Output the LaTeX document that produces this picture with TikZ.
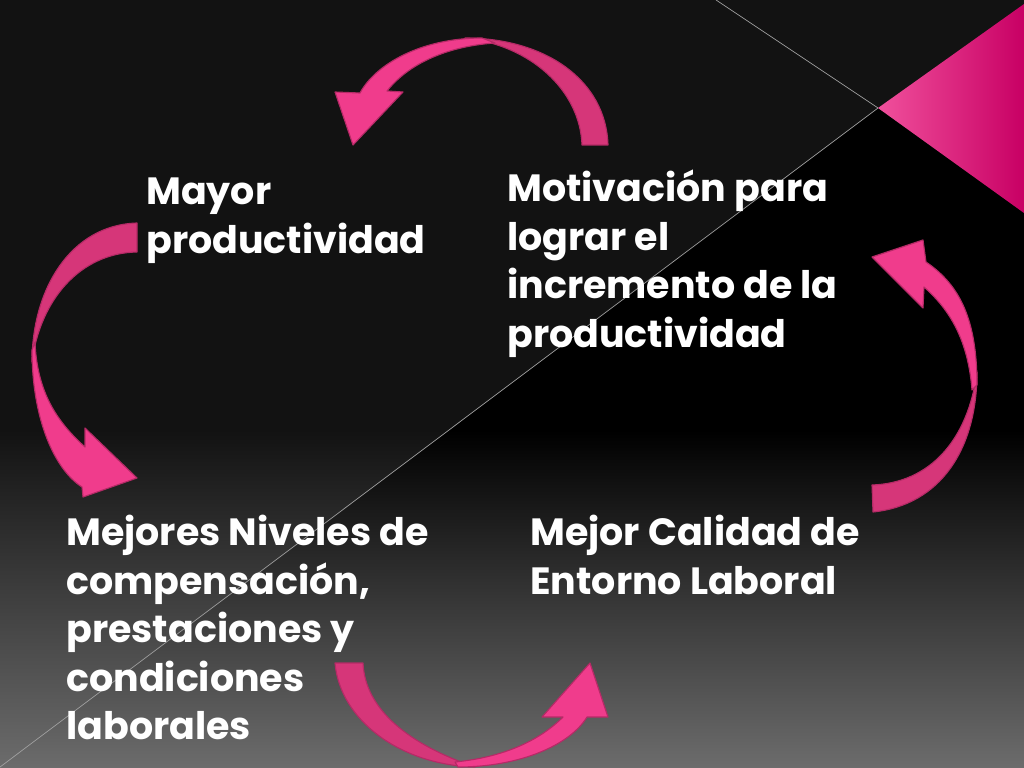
\documentclass[tikz,border=0pt]{standalone}
\usepackage{fontspec}
\setmainfont{Poppins}
\definecolor{pinkA}{HTML}{F03C8C}
\definecolor{pinkB}{HTML}{D63679}
\definecolor{pinkE}{HTML}{B52A66}
\definecolor{bgtop}{HTML}{121212}
\definecolor{bgbot}{HTML}{6C6C6C}
\definecolor{triL}{HTML}{F0509C}
\definecolor{triM}{HTML}{E4007C}
\definecolor{triR}{HTML}{C80064}
\begin{document}
\begin{tikzpicture}[x=0.025cm,y=-0.025cm,
  front/.style={fill=pinkA,draw=pinkE,line width=0.8pt,line join=round},
  back/.style={fill=pinkB,draw=pinkE,line width=0.8pt,line join=round},
  lbl/.style={anchor=north west,inner sep=0pt,text=white,align=left,
    font=\bfseries\fontsize{27}{34.5}\selectfont},
  thinline/.style={draw=gray!75,line width=0.5pt}]
\useasboundingbox (0,0) rectangle (1024,768);
% background
\fill[bgtop] (0,0) rectangle (1024,430);
\shade[top color=bgtop,bottom color=bgbot] (0,430) rectangle (1024,768);
\fill[black] (878,108) -- (1024,213) -- (1024,430) -- (449,430) -- cycle;
\shade[top color=black,bottom color=bgbot] (449,430) -- (1024,430) -- (1024,768) -- (0,768) -- (0,767) -- cycle;
\draw[thinline] (878,108) -- (0,767);
\draw[thinline] (716,0) -- (878,108);
% triangle
\shade[left color=triL,middle color=triM,right color=triR] (878,108) -- (1024,4) -- (1024,213) -- cycle;
% top arrow
\path[back] (608,145) .. controls (606,80) and (545,38) .. (465,38)
  .. controls (530,45) and (580,90) .. (582,145) -- cycle;
\path[front] (482,38) .. controls (420,38) and (375,65) .. (360,93)
  -- (335,92) -- (353,145) -- (403,92) -- (387,91)
  .. controls (410,62) and (450,46) .. (495,43) -- cycle;
% left arrow
\path[back] (137,223) .. controls (70,225) and (32,290) .. (32,362)
  .. controls (40,300) and (80,253) .. (137,252) -- cycle;
\path[front] (32,350) .. controls (32,420) and (55,470) .. (82,487)
  -- (83,497) -- (137,478) -- (85,428) -- (85,447)
  .. controls (55,420) and (37,390) .. (35,342) -- cycle;
% right arrow
\path[back] (873,512) .. controls (940,505) and (977,450) .. (977,372)
  .. controls (968,440) and (930,483) .. (872,485) -- cycle;
\path[front] (977,385) .. controls (977,320) and (960,285) .. (926,262)
  -- (923,240) -- (872,257) -- (923,308) -- (924,287)
  .. controls (950,310) and (968,340) .. (972,390) -- cycle;
% bottom arrow
\path[back] (335,663) .. controls (340,720) and (400,765) .. (475,767)
  .. controls (410,745) and (365,710) .. (363,663) -- cycle;
\path[front] (458,767) .. controls (520,767) and (570,745) .. (587,717)
  -- (608,717) -- (590,663) -- (542,717) -- (563,717)
  .. controls (540,740) and (505,757) .. (455,762) -- cycle;
% texts
\node[lbl] (mayor) at (146,178) {Mayor\\productividad};
\node[lbl] (motiv) at (507,170) {Motivación para\\lograr el\\incremento de la\\productividad};
\node[lbl] (mejores) at (66,515) {Mejores Niveles de\\compensación,\\prestaciones y\\condiciones\\laborales};
\node[lbl] (calidad) at (530,515) {Mejor Calidad de\\Entorno Laboral};
\end{tikzpicture}
\end{document}
